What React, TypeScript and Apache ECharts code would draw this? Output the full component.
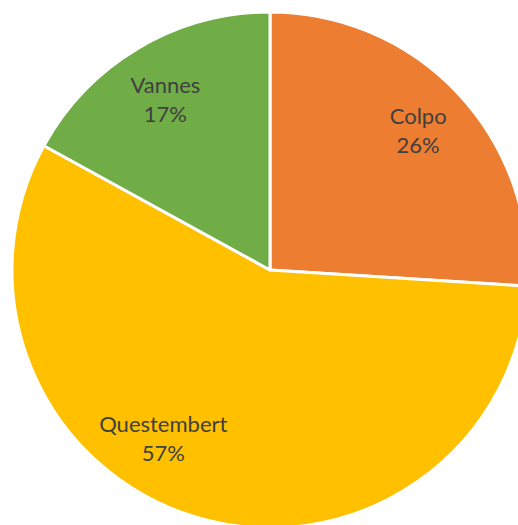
import React, { useEffect, useRef } from "react";
import * as echarts from "echarts";

const categories = ["Colpo", "Questembert", "Vannes"];
const values = [26, 57, 17];
const colors = ["#ED7D31", "#FFC000", "#70AD47"];
// label placement: angle (deg, clockwise from top) and fraction of radius
const labelAngles = [46.7, 212.4, 328.5];
const labelRadiusFrac = [0.789, 0.772, 0.776];

const CX = 270;
const CY = 270;
const R = 258;

export default function App() {
  const ref = useRef<HTMLDivElement>(null);
  useEffect(() => {
    if (!ref.current) return;
    const chart = echarts.init(ref.current, null, { renderer: "svg" });
    chart.setOption({
      animation: false,
      backgroundColor: "#ffffff",
      series: [
        {
          type: "pie",
          center: [CX, CY],
          radius: [0, R],
          startAngle: 90,
          clockwise: true,
          avoidLabelOverlap: false,
          itemStyle: { borderColor: "#ffffff", borderWidth: 3 },
          label: {
            show: true,
            position: "inside",
            formatter: (p: any) => `${p.name}\n${Math.round(p.percent)}%`,
            fontFamily: "Lato",
            fontSize: 22,
            lineHeight: 29,
            color: "#404040",
            align: "center",
          },
          labelLine: { show: false },
          labelLayout: (params: any) => {
            const i = params.dataIndex;
            const a = (labelAngles[i] * Math.PI) / 180;
            const rr = labelRadiusFrac[i] * R;
            return {
              x: CX + rr * Math.sin(a),
              y: CY - rr * Math.cos(a),
              align: "center",
              verticalAlign: "middle",
            };
          },
          emphasis: { disabled: true },
          data: categories.map((c, i) => ({
            name: c,
            value: values[i],
            itemStyle: { color: colors[i] },
          })),
        },
      ],
    });
    return () => chart.dispose();
  }, []);
  return (
    <div
      ref={ref}
      style={{ position: "absolute", left: 0, top: 0, width: 518, height: 525 }}
    />
  );
}
